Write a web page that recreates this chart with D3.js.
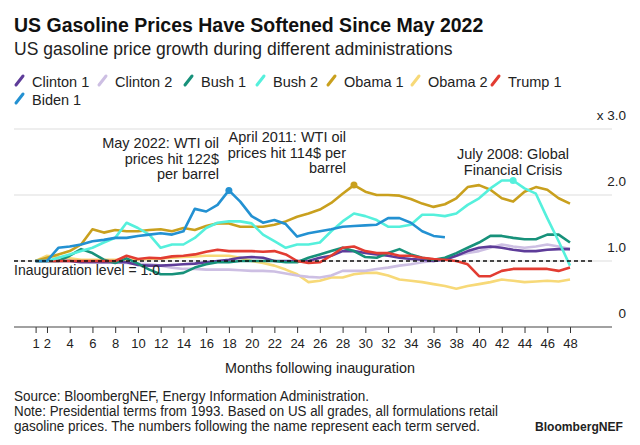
<!DOCTYPE html>
<html><head><meta charset="utf-8">
<script src="https://cdn.jsdelivr.net/npm/d3@7"></script>
<style>
body{margin:0;background:#fff;font-family:"Liberation Sans",Arial,sans-serif}
text{fill:#222}
</style></head>
<body><div id="chart"></div>
<script>
const months = d3.range(1, 49)
const tickMonths = [1, 2, 4, 6, 8, 10, 12, 14, 16, 18, 20, 22, 24, 26, 28, 30, 32, 34, 36, 38, 40, 42, 44, 46, 48]
const yTicks = [0, 1, 2, 3]
const yTickLabels = ['0', '1.0', '2.0', 'x 3.0']

const clinton1 = [1,1,1,1,0.98,0.98,0.98,0.98,0.98,0.94,0.93,0.93,0.94,0.95,0.96,0.98,1,1.02,1.05,1.06,1.05,1,1,1,1,1.05,1.08,1.15,1.15,1.12,1.1,1.08,1.05,1.03,1.02,1,1.02,1.08,1.15,1.2,1.22,1.2,1.17,1.15,1.15,1.17,1.18,1.18]
const clinton2 = [1,1,1,1,0.99,0.99,0.98,0.98,0.97,0.96,0.95,0.93,0.9,0.88,0.88,0.87,0.87,0.87,0.86,0.85,0.85,0.84,0.81,0.78,0.76,0.75,0.78,0.85,0.85,0.85,0.88,0.9,0.93,0.95,0.98,1,1.04,1.08,1.12,1.15,1.2,1.25,1.22,1.2,1.22,1.25,1.22,1.18]
const bush1 = [1,1,1,1.08,1.18,1.12,1.02,0.97,1.04,0.96,0.87,0.8,0.8,0.82,0.9,0.95,0.98,0.98,1,1,1,1,0.98,0.98,1.05,1.1,1.15,1.2,1.15,1.06,1.05,1.12,1.18,1.1,1.05,1.02,1.05,1.12,1.2,1.28,1.38,1.38,1.35,1.33,1.33,1.4,1.4,1.28]
const bush2 = [1,1,1.05,1.1,1.15,1.2,1.28,1.35,1.58,1.5,1.4,1.2,1.25,1.25,1.35,1.5,1.58,1.6,1.6,1.57,1.4,1.3,1.2,1.25,1.25,1.28,1.45,1.6,1.72,1.68,1.62,1.52,1.52,1.55,1.7,1.7,1.68,1.72,1.85,1.95,2.1,2.22,2.22,2.1,2.02,1.65,1.3,0.93]
const obama1 = [1,1.05,1.1,1.15,1.25,1.48,1.43,1.47,1.45,1.45,1.47,1.48,1.45,1.5,1.47,1.53,1.57,1.57,1.52,1.52,1.52,1.55,1.6,1.67,1.72,1.78,1.88,2.02,2.15,2.05,2.0,2.0,1.99,1.94,1.87,1.82,1.86,1.95,2.12,2.15,2.08,1.95,1.9,2.05,2.12,2.08,1.95,1.87]
const obama2 = [1,1.08,1.06,1.04,1.02,1.02,1.02,1.02,1.02,1.02,1.03,1.04,1.05,1.06,1.07,1.08,1.08,1.08,1.05,1,0.97,0.93,0.87,0.8,0.68,0.7,0.75,0.75,0.8,0.82,0.82,0.78,0.72,0.7,0.68,0.65,0.62,0.58,0.62,0.65,0.68,0.72,0.7,0.68,0.69,0.7,0.69,0.72]
const trump1 = [1,1,1,1,1,1,1,1,1.08,1.03,1.05,1.04,1.07,1.08,1.1,1.14,1.17,1.15,1.15,1.15,1.14,1.15,1.1,1,0.97,0.98,1.08,1.2,1.22,1.15,1.12,1.12,1.08,1.08,1.05,1.03,1.02,1,0.95,0.77,0.77,0.85,0.88,0.88,0.88,0.88,0.85,0.9]
const biden1 = [1,1,1.2,1.22,1.25,1.3,1.32,1.35,1.35,1.38,1.4,1.42,1.4,1.45,1.79,1.75,1.85,2.07,1.9,1.68,1.58,1.62,1.56,1.37,1.42,1.45,1.48,1.52,1.53,1.54,1.55,1.65,1.65,1.58,1.45,1.38,1.36]

const series = [
  {name: 'Clinton 1', values: clinton1, color: '#5e3c99'},
  {name: 'Clinton 2', values: clinton2, color: '#cdbfe3'},
  {name: 'Bush 1', values: bush1, color: '#17917a'},
  {name: 'Bush 2', values: bush2, color: '#55f0dc'},
  {name: 'Obama 1', values: obama1, color: '#c9a01e'},
  {name: 'Obama 2', values: obama2, color: '#f7d978'},
  {name: 'Trump 1', values: trump1, color: '#e23c32'},
  {name: 'Biden 1', values: biden1, color: '#2391d2'}
]
const drawOrder = ['Obama 2', 'Clinton 2', 'Clinton 1', 'Bush 1', 'Trump 1', 'Obama 1', 'Bush 2', 'Biden 1']

const annotations = [
  {series: 'Biden 1', month: 18, lines: ['May 2022: WTI oil', 'prices hit 122$', 'per barrel'], anchor: 'end', x: 219, y: 148},
  {series: 'Obama 1', month: 29, lines: ['April 2011: WTI oil', 'prices hit 114$ per', 'barrel'], anchor: 'end', x: 346, y: 142},
  {series: 'Bush 2', month: 43, lines: ['July 2008: Global', 'Financial Crisis'], anchor: 'middle', x: 513, y: 159}
]

const W = 640, H = 445
const svg = d3.select('#chart').append('svg').attr('width', W).attr('height', H)

svg.append('text').attr('x', 14).attr('y', 32).attr('font-size', 19.5).attr('font-weight', 'bold')
  .style('fill', '#111').text('US Gasoline Prices Have Softened Since May 2022')
svg.append('text').attr('x', 14).attr('y', 55).attr('font-size', 17.5)
  .text('US gasoline price growth during different administrations')

// legend
const legendX = [14, 97, 183, 255, 326, 410, 490]
series.forEach((s, i) => {
  const lx = i < 7 ? legendX[i] : 14
  const ly = i < 7 ? 81 : 99
  const g = svg.append('g').attr('transform', `translate(${lx},${ly})`)
  g.append('line').attr('x1', 2).attr('y1', 4).attr('x2', 9).attr('y2', -5)
    .attr('stroke', s.color).attr('stroke-width', 3).attr('stroke-linecap', 'round')
  g.append('text').attr('x', 18).attr('y', 5.5).attr('font-size', 14.5).text(s.name)
})

const x = d3.scaleLinear().domain([1, 48]).range([35.6, 570])
const y = d3.scaleLinear().domain([0, 3]).range([327, 129])

svg.selectAll('.grid').data(yTicks.slice(1)).enter().append('line')
  .attr('x1', 14).attr('x2', 612).attr('y1', d => y(d)).attr('y2', d => y(d))
  .attr('stroke', '#ddd')
svg.selectAll('.ylab').data(yTicks).enter().append('text')
  .attr('x', 626).attr('y', d => y(d) - 9).attr('text-anchor', 'end').attr('font-size', 13.5)
  .text((d, i) => yTickLabels[i])

const xAxis = svg.append('g').attr('transform', `translate(0,${y(0)})`)
  .call(d3.axisBottom(x).tickValues(tickMonths).tickSize(6).tickPadding(6))
xAxis.select('.domain').remove()
xAxis.selectAll('line').attr('stroke', '#333')
xAxis.selectAll('text').attr('font-size', 13).style('fill', '#222')
svg.append('line').attr('x1', 14).attr('x2', 612).attr('y1', y(0)).attr('y2', y(0)).attr('stroke', '#444').attr('stroke-width', 1.2)

svg.append('text').attr('x', 225).attr('y', 373).attr('font-size', 14.5)
  .attr('textLength', 190).attr('lengthAdjust', 'spacingAndGlyphs').text('Months following inauguration')

const line = d3.line().x((d, i) => x(months[i])).y(d => y(d))
drawOrder.forEach(name => {
  const s = series.find(d => d.name === name)
  svg.append('path').datum(s.values).attr('d', line).attr('fill', 'none')
    .attr('stroke', s.color).attr('stroke-width', 2.6).attr('stroke-linejoin', 'round')
})

svg.append('line').attr('x1', 14).attr('x2', 592).attr('y1', y(1)).attr('y2', y(1))
  .attr('stroke', '#111').attr('stroke-width', 1.4).attr('stroke-dasharray', '4,3')
svg.append('text').attr('x', 14).attr('y', 275).attr('font-size', 14).text('Inauguration level = 1.0')

annotations.forEach(a => {
  const s = series.find(d => d.name === a.series)
  svg.append('circle').attr('cx', x(a.month)).attr('cy', y(s.values[a.month - 1])).attr('r', 3.5).attr('fill', s.color)
  a.lines.forEach((t, i) => {
    svg.append('text').attr('x', a.x).attr('y', a.y + i * 15.5).attr('text-anchor', a.anchor)
      .attr('font-size', 14.5).text(t)
  })
})

const foot = ['Source: BloombergNEF, Energy Information Administration.',
  'Note: Presidential terms from 1993. Based on US all grades, all formulations retail',
  'gasoline prices. The numbers following the name represent each term served.']
const footLen = [355, 484, 466]
foot.forEach((t, i) => {
  svg.append('text').attr('x', 14).attr('y', 401 + i * 15).attr('font-size', 14)
    .attr('textLength', footLen[i]).attr('lengthAdjust', 'spacingAndGlyphs').text(t)
})
svg.append('text').attr('x', 623).attr('y', 431).attr('text-anchor', 'end').attr('font-size', 13.5).attr('font-weight', 'bold')
  .attr('textLength', 88).attr('lengthAdjust', 'spacingAndGlyphs').text('BloombergNEF')
</script></body></html>
